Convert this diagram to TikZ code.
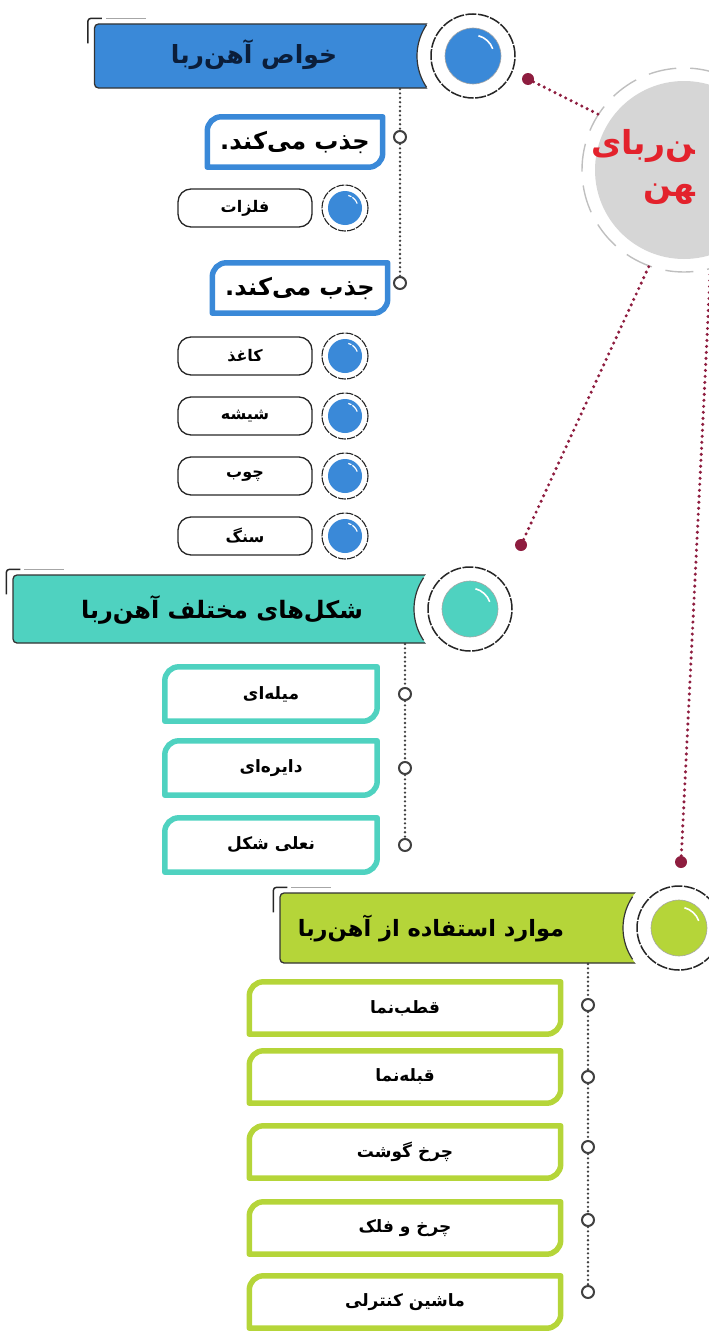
\documentclass[tikz,border=0pt]{standalone}
\usepackage{fontspec}
\usetikzlibrary{positioning}
\TeXXeTstate=1
\newfontfamily\fa[Script=Arabic]{DejaVu Sans}
\newcommand{\fatext}[1]{{\fa\beginR #1\endR}}
\newcommand{\tagframe}[2]{%
	\draw[#2,line width=5.5pt,line join=round]
	(#1.south west) -- ([yshift=-14pt]#1.north west) arc[start angle=180,end angle=90,radius=14pt]
	-- (#1.north east) -- ([yshift=14pt]#1.south east) arc[start angle=0,end angle=-90,radius=14pt] -- cycle;}
\definecolor{magblue}{HTML}{3A89D8}
\definecolor{magteal}{HTML}{4FD2C0}
\definecolor{maggreen}{HTML}{B5D539}
\definecolor{magdot}{HTML}{8E1D3F}
\definecolor{hubgray}{HTML}{D6D6D6}
\definecolor{hubred}{HTML}{E3222C}
\definecolor{navy}{HTML}{0B1E3A}
\begin{document}
\begin{tikzpicture}[x=1pt,y=1pt,
	bar/.style={rectangle,rounded corners=4pt,draw=black!80,line width=1.3pt,minimum height=64pt,inner sep=0pt},
	head/.style={font=\fa\bfseries\fontsize{24}{28}\selectfont,inner sep=0pt},
	hub/.style={circle,fill=white,minimum size=112pt,inner sep=0pt,path picture={
		\draw[black!85,line width=1.5pt,dash pattern=on 11pt off 1.5pt] (path picture bounding box.center) circle (42pt);
		\fill[#1] (path picture bounding box.center) circle (28pt);
		\draw[black!35,line width=0.6pt] (path picture bounding box.center) circle (28pt);
		\draw[white,line width=1.6pt] (path picture bounding box.center) ++(20:21pt) arc[start angle=20,end angle=75,radius=21pt];}},
	pill/.style={rectangle,rounded corners=13pt,draw=black!85,line width=1.3pt,minimum width=134pt,minimum height=38pt,inner sep=0pt,font=\fa\bfseries\fontsize{16}{18}\selectfont},
	knob/.style={circle,fill=white,draw=black!85,dash pattern=on 8pt off 1.2pt,line width=1.1pt,minimum size=46pt,inner sep=0pt,path picture={
		\fill[#1] (path picture bounding box.center) circle (17pt);
		\draw[white,line width=1.2pt] (path picture bounding box.center) ++(20:13pt) arc[start angle=20,end angle=75,radius=13pt];}},
	tag/.style={minimum width=175pt,minimum height=50pt,inner sep=0pt,font=\fa\bfseries\fontsize{24}{28}\selectfont},
	item/.style={minimum height=54pt,inner sep=0pt,font=\fa\bfseries\fontsize{17}{20}\selectfont},
	hole/.style={circle,draw=black!75,fill=white,line width=2pt,minimum size=12pt,inner sep=0pt},
	joint/.style={circle,fill=magdot,minimum size=12pt,inner sep=0pt},
	trail/.style={black!75,line width=2.6pt,dash pattern=on 0pt off 4.4pt,line cap=round},
	link/.style={magdot,line width=3.4pt,dash pattern=on 0pt off 6pt,line cap=round}]
	
	\useasboundingbox (0,0) rectangle (709,-1338);
	\clip (0,0) rectangle (709,-1338);
	
	\node[circle,fill=hubgray,minimum size=178pt] (core) at (684,-170) {};
	\node[circle,minimum size=204pt] (orbit) at (core.center) {};
	\draw[gray!50,line width=1.4pt,dash pattern=on 28pt off 14pt] (orbit.center) circle (102pt);
	\node[font=\fa\bfseries\fontsize{33}{35}\selectfont,text=hubred,anchor=east,inner sep=0pt] (title) at (695,-146) {\fatext{^^^^200dن^^^^200cربای}};
	\node[font=\fa\bfseries\fontsize{33}{35}\selectfont,text=hubred,anchor=east,inner sep=0pt] (titleB) at (695,-194) {\fatext{^^^^200dهن}};
	
	\node[bar,fill=magblue,minimum width=345pt] (props) at (267,-56) {};
	\node[hub=magblue] (propsHub) [right of=props,node distance=206pt] {};
	\draw[black!80,line width=1.2pt] (propsHub.center) ++(146:56pt) arc[start angle=146,end angle=214,radius=56pt];
	\node[head,text=navy,font=\fa\bfseries\fontsize{25}{28}\selectfont] (propsT) at (254,-55) {\fatext{خواص آهن^^^^200cربا}};
	\draw[black!85,line width=1.5pt,rounded corners=3pt] ([xshift=-6pt,yshift=-20pt]props.north west) |- ([xshift=8pt,yshift=5pt]props.north west);
	\draw[gray!70,line width=1.5pt] ([xshift=12pt,yshift=5pt]props.north west) -- ++(40pt,0);
	
	\node[tag] (pullA) at (295,-142) {\fatext{جذب می^^^^200cکند.}};
	\tagframe{pullA}{magblue}
	\node[pill] (metal) at (245,-208) {\fatext{فلزات}};
	\node[knob=magblue] (metalK) [right of=metal,node distance=100pt] {};
	\node[tag] (pullB) at (300,-288) {\fatext{جذب می^^^^200cکند.}};
	\tagframe{pullB}{magblue}
	\node[pill] (paper) [below of=metal,node distance=148pt] {\fatext{کاغذ}};
	\node[knob=magblue] (paperK) [right of=paper,node distance=100pt] {};
	\node[pill] (glass) [below of=paper,node distance=60pt] {\fatext{شیشه}};
	\node[knob=magblue] (glassK) [right of=glass,node distance=100pt] {};
	\node[pill] (wood) [below of=glass,node distance=60pt] {\fatext{چوب}};
	\node[knob=magblue] (woodK) [right of=wood,node distance=100pt] {};
	\node[pill] (stone) [below of=wood,node distance=60pt] {\fatext{سنگ}};
	\node[knob=magblue] (stoneK) [right of=stone,node distance=100pt] {};
	
	\coordinate (propsFoot) at (400,-89);
	\node[hole] (propsA) at (400,-137) {};
	\node[hole] (propsB) at (400,-283) {};
	\draw[trail] (propsFoot) -- (propsA) -- (propsB);
	
	\node[bar,fill=magteal,minimum width=420pt,minimum height=68pt] (shapes) at (223,-609) {};
	\node[hub=magteal] (shapesHub) [right of=shapes,node distance=247pt] {};
	\draw[black!80,line width=1.2pt] (shapesHub.center) ++(146:56pt) arc[start angle=146,end angle=214,radius=56pt];
	\node[head] (shapesT) at (222,-610) {\fatext{شکل^^^^200cهای مختلف آهن^^^^200cربا}};
	\draw[black!85,line width=1.5pt,rounded corners=3pt] ([xshift=-6pt,yshift=-20pt]shapes.north west) |- ([xshift=8pt,yshift=5pt]shapes.north west);
	\draw[gray!70,line width=1.5pt] ([xshift=12pt,yshift=5pt]shapes.north west) -- ++(40pt,0);
	
	\node[item,minimum width=212pt] (rod) at (271,-694) {\fatext{میله^^^^200cای}};
	\tagframe{rod}{magteal}
	\node[item,minimum width=212pt] (round) [below of=rod,node distance=74pt] {\fatext{دایره^^^^200cای}};
	\tagframe{round}{magteal}
	\node[item,minimum width=212pt] (shoe) [below of=round,node distance=77pt] {\fatext{نعلی شکل}};
	\tagframe{shoe}{magteal}
	
	\coordinate (shapesFoot) at (405,-644);
	\node[hole] (shapesA) at (405,-694) {};
	\node[hole] (shapesB) at (405,-768) {};
	\node[hole] (shapesC) at (405,-845) {};
	\draw[trail] (shapesFoot) -- (shapesA) -- (shapesB) -- (shapesC);
	
	\node[bar,fill=maggreen,minimum width=360pt,minimum height=70pt] (uses) at (460,-928) {};
	\node[hub=maggreen] (usesHub) [right of=uses,node distance=219pt] {};
	\draw[black!80,line width=1.2pt] (usesHub.center) ++(146:56pt) arc[start angle=146,end angle=214,radius=56pt];
	\node[head,font=\fa\bfseries\fontsize{22.5}{26}\selectfont] (usesT) at (431,-928) {\fatext{موارد استفاده از آهن^^^^200cربا}};
	\draw[black!85,line width=1.5pt,rounded corners=3pt] ([xshift=-6pt,yshift=-20pt]uses.north west) |- ([xshift=8pt,yshift=5pt]uses.north west);
	\draw[gray!70,line width=1.5pt] ([xshift=12pt,yshift=5pt]uses.north west) -- ++(40pt,0);
	
	\node[item,minimum width=311pt,minimum height=52pt] (compass) at (405,-1008) {\fatext{قطب^^^^200cنما}};
	\tagframe{compass}{maggreen}
	\node[item,minimum width=311pt,minimum height=52pt] (qibla) [below of=compass,node distance=69pt] {\fatext{قبله^^^^200cنما}};
	\tagframe{qibla}{maggreen}
	\node[item,minimum width=311pt,minimum height=52pt] (mincer) [below of=qibla,node distance=75pt] {\fatext{چرخ گوشت}};
	\tagframe{mincer}{maggreen}
	\node[item,minimum width=311pt,minimum height=52pt] (wheel) [below of=mincer,node distance=76pt] {\fatext{چرخ و فلک}};
	\tagframe{wheel}{maggreen}
	\node[item,minimum width=311pt,minimum height=52pt] (toycar) [below of=wheel,node distance=74pt] {\fatext{ماشین کنترلی}};
	\tagframe{toycar}{maggreen}
	
	\coordinate (usesFoot) at (588,-964);
	\node[hole] (usesA) at (588,-1005) {};
	\node[hole] (usesB) at (588,-1077) {};
	\node[hole] (usesC) at (588,-1147) {};
	\node[hole] (usesD) at (588,-1220) {};
	\node[hole] (usesE) at (588,-1292) {};
	\draw[trail] (usesFoot) -- (usesA) -- (usesB) -- (usesC) -- (usesD) -- (usesE);
	
	\node[joint] (jointA) at (528,-79) {};
	\node[joint] (jointB) at (521,-545) {};
	\node[joint] (jointC) at (681,-862) {};
	
	\path[link]
	(jointA) edge (orbit.147)
	(jointB) edge (orbit.250)
	(jointC) edge (orbit.285);
\end{tikzpicture}
\end{document}
